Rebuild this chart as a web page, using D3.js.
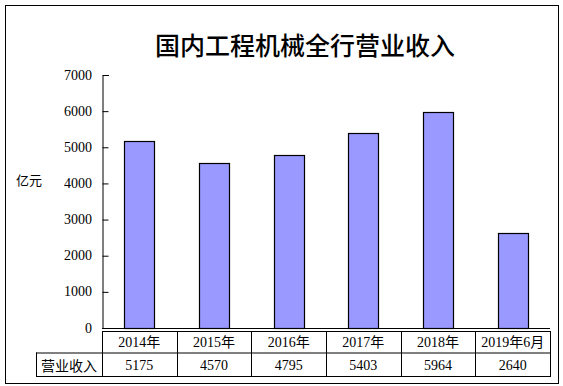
<!DOCTYPE html>
<html>
<head>
<meta charset="utf-8">
<script src="https://cdn.jsdelivr.net/npm/d3@7"></script>
<style>
  body { margin: 0; background: #fff; }
  svg text { font-family: "Liberation Serif", "Noto Sans CJK SC", serif; fill: #000; }
  .cjk { font-family: "Noto Sans CJK SC", sans-serif; }
</style>
</head>
<body>
<svg width="563" height="386"></svg>
<script>
// data
var years = ['2014年', '2015年', '2016年', '2017年', '2018年', '2019年6月'];
var revenue = [5175, 4570, 4795, 5403, 5964, 2640];
var yTicks = [0, 1000, 2000, 3000, 4000, 5000, 6000, 7000];
var rowLabel = '营业收入';
var unitLabel = '亿元';
var chartTitle = '国内工程机械全行营业收入';

var svg = d3.select('svg');

// outer frame
svg.append('rect')
    .attr('x', 5.5).attr('y', 5.5)
    .attr('width', 553).attr('height', 378)
    .attr('fill', 'none').attr('stroke', '#000').attr('stroke-width', 1);

svg.append('text')
    .attr('class', 'cjk')
    .attr('x', 305).attr('y', 44)
    .attr('text-anchor', 'middle')
    .attr('dominant-baseline', 'central')
    .style('font-size', '25px')
    .style('font-weight', '500')
    .text(chartTitle);

var xScale = d3.scaleBand()
    .domain(years).range([102, 550]).paddingInner(0).paddingOuter(0);

var yScale = d3.scaleLinear()
    .domain([0, 7000]).range([328, 75]);

// y axis, ticks pointing into the plot
var yAxis = svg.append('g')
    .attr('transform', 'translate(102.5,0)')
    .call(d3.axisRight(yScale).tickValues(yTicks).tickSize(6).tickFormat(''));
yAxis.select('.domain').attr('d', 'M6.5,75.5H0.5V328.5');
yAxis.selectAll('.tick line').attr('stroke', '#000');
yAxis.select('.domain').attr('stroke', '#000');

svg.selectAll('.ylab')
    .data(yTicks)
    .enter()
    .append('text')
    .attr('class', 'ylab')
    .attr('x', 92)
    .attr('y', function(d){ return yScale(d); })
    .attr('text-anchor', 'end')
    .attr('dominant-baseline', 'central')
    .style('font-size', '14px')
    .text(function(d){ return d; });

svg.append('text')
    .attr('class', 'cjk')
    .attr('x', 29).attr('y', 179)
    .attr('text-anchor', 'middle')
    .attr('dominant-baseline', 'central')
    .style('font-size', '13px')
    .text(unitLabel);

// x axis line
svg.append('line')
    .attr('x1', 102).attr('x2', 550)
    .attr('y1', yScale(0) + 0.5).attr('y2', yScale(0) + 0.5)
    .attr('stroke', '#000');

// bars
var bw = xScale.bandwidth() * 0.4;
svg.selectAll('.bar')
    .data(revenue)
    .enter()
    .append('rect')
    .attr('class', 'bar')
    .attr('x', function(d, i){ return Math.round(xScale(years[i]) + xScale.bandwidth() / 2 - bw / 2) + 0.5; })
    .attr('y', function(d){ return Math.round(yScale(d)) + 0.5; })
    .attr('width', Math.round(bw))
    .attr('height', function(d){ return Math.round(yScale(0)) - Math.round(yScale(d)); })
    .attr('fill', '#9999ff')
    .attr('stroke', '#000')
    .attr('stroke-width', 1.2);

// data table under the axis
var t1 = 331, t2 = 352.5, t3 = 376;
var grid = svg.append('g').attr('stroke', '#000').attr('stroke-width', 1);
grid.append('line').attr('x1', 102).attr('x2', 550).attr('y1', t1 + 0.5).attr('y2', t1 + 0.5);
grid.append('line').attr('x1', 36).attr('x2', 550).attr('y1', t2 + 0.5).attr('y2', t2 + 0.5);
grid.append('line').attr('x1', 36).attr('x2', 550).attr('y1', t3 + 0.5).attr('y2', t3 + 0.5);
grid.append('line').attr('x1', 36.5).attr('x2', 36.5).attr('y1', t2).attr('y2', t3 + 1);
var edges = years.map(function(y){ return xScale(y); }).concat([550]);
grid.selectAll('.vline')
    .data(edges)
    .enter()
    .append('line')
    .attr('x1', function(d){ return Math.round(d) + 0.5; })
    .attr('x2', function(d){ return Math.round(d) + 0.5; })
    .attr('y1', t1).attr('y2', t3 + 1);

svg.selectAll('.yr')
    .data(years)
    .enter()
    .append('text')
    .attr('x', function(d){ return xScale(d) + xScale.bandwidth() / 2; })
    .attr('y', (t1 + t2) / 2 + 1)
    .attr('text-anchor', 'middle')
    .attr('dominant-baseline', 'central')
    .style('font-size', '14px')
    .text(function(d){ return d; });

svg.selectAll('.val')
    .data(revenue)
    .enter()
    .append('text')
    .attr('x', function(d, i){ return xScale(years[i]) + xScale.bandwidth() / 2; })
    .attr('y', (t2 + t3) / 2 + 1)
    .attr('text-anchor', 'middle')
    .attr('dominant-baseline', 'central')
    .style('font-size', '14px')
    .text(function(d){ return d; });

svg.append('text')
    .attr('class', 'cjk')
    .attr('x', 69).attr('y', (t2 + t3) / 2 + 1)
    .attr('text-anchor', 'middle')
    .attr('dominant-baseline', 'central')
    .style('font-size', '14px')
    .text(rowLabel);
</script>
</body>
</html>
